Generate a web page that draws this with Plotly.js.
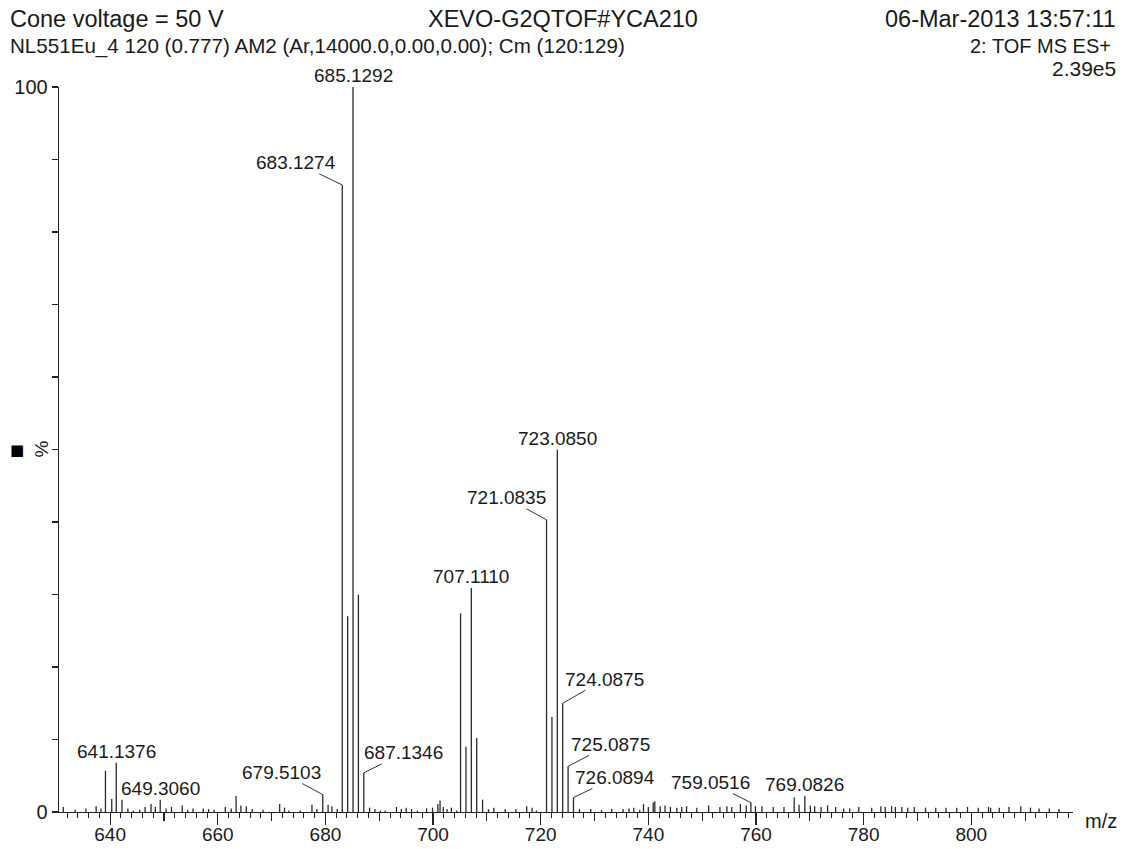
<!DOCTYPE html>
<html>
<head>
<meta charset="utf-8">
<script src="https://cdn.plot.ly/plotly-3.0.1.min.js"></script>
<style>
html,body{margin:0;padding:0;background:#fff;}
#chart{width:1125px;height:849px;}
</style>
</head>
<body>
<div id="chart"></div>
<script>
// ---- data: peak m/z values and relative intensities (%) ----
const mz = [
  631.3, 633.5, 635.5, 637.4, 638.3, 639.13, 640.3, 641.1376, 642.2, 643.3, 644.3, 645.5, 646.5, 647.6, 648.4,
  649.3060, 650.4, 651.4, 653.4, 654.4, 655.4, 657.3, 658.3, 659.3, 661.4, 662.5, 663.4, 664.3, 665.3, 666.4,
  668.4, 671.5, 672.4, 673.2, 675.3, 677.5, 678.4, 679.5103, 680.5, 681.2, 682.2,
  683.1274, 684.13, 685.1292, 686.13, 687.1346, 688.2, 689.2, 690.2, 691.1, 693.2, 694.1, 695.0, 696.0, 697.1,
  698.8, 699.9, 700.9, 701.3, 701.9, 702.6, 703.4, 704.4,
  705.11, 706.11, 707.1110, 708.11, 709.2, 710.3, 711.3, 713.4, 715.4, 717.4, 718.4, 719.2,
  721.0835, 722.09, 723.0850, 724.0875, 725.0875, 726.0894, 727.2, 729.3, 731.3, 733.2, 735.3, 736.4, 737.3, 738.4,
  739.1, 740.0, 740.9, 741.2, 742.2, 743.1, 744.1, 745.3, 746.2, 747.1, 749.0, 751.2, 753.3, 754.6, 755.5, 757.1,
  758.2, 759.0516, 759.9, 761.1, 763.2, 765.2, 767.1, 768.0, 769.0826, 770.1, 770.9, 772.1, 773.3, 774.8,
  776.3, 777.4, 779.1, 781.5, 783.2, 784.0, 785.2, 785.9, 787.1, 788.2, 789.4, 791.5, 793.4, 795.3, 797.3,
  799.3, 801.3, 803.2, 803.6, 805.2, 807.0, 809.2, 811.0, 812.6, 814.5, 816.3
];
const intensity = [
  0.7, 0.3, 0.5, 0.8, 0.5, 5.7, 1.8, 6.8, 1.7, 0.5, 0.2, 0.3, 0.7, 1.1, 0.7,
  1.7, 0.5, 0.7, 0.9, 0.3, 0.5, 0.5, 0.4, 0.3, 0.7, 0.5, 2.2, 0.9, 0.8, 0.4,
  0.3, 1.1, 0.6, 0.2, 0.2, 1.0, 0.4, 2.4, 1.0, 0.8, 0.4,
  86.5, 27.0, 100, 30.0, 5.4, 0.6, 0.4, 0.2, 0.2, 0.7, 0.4, 0.6, 0.4, 0.2,
  0.5, 0.6, 1.1, 1.6, 0.7, 0.4, 0.6, 0.2,
  27.4, 9.0, 30.9, 10.2, 1.7, 0.4, 0.6, 0.4, 0.4, 0.8, 0.6, 0.2,
  40.3, 13.1, 50.0, 15.0, 6.3, 2.0, 0.4, 0.4, 0.3, 0.4, 0.4, 0.5, 0.6, 0.3,
  1.1, 0.7, 1.3, 1.5, 0.8, 0.9, 0.7, 0.6, 0.7, 0.8, 0.6, 0.9, 0.7, 0.8, 0.7, 1.1,
  0.9, 1.3, 0.8, 0.8, 0.7, 0.7, 2.0, 1.0, 2.2, 0.9, 0.8, 0.7, 0.9, 0.7,
  0.5, 0.5, 0.7, 0.6, 0.8, 0.7, 0.8, 0.7, 0.7, 0.6, 0.7, 0.6, 0.6, 0.6, 0.6,
  0.7, 0.6, 0.7, 0.6, 0.6, 0.7, 0.8, 0.6, 0.5, 0.5, 0.4
];
// labelled peaks
const labelMz = [641.1376, 649.3060, 679.5103, 683.1274, 685.1292, 687.1346, 707.1110,
                 721.0835, 723.0850, 724.0875, 725.0875, 726.0894, 759.0516, 769.0826];
const labelText = ["641.1376", "649.3060", "679.5103", "683.1274", "685.1292", "687.1346", "707.1110",
                   "721.0835", "723.0850", "724.0875", "725.0875", "726.0894", "759.0516", "769.0826"];
// axis tick labels
const yTickVals = [0, 10, 20, 30, 40, 50, 60, 70, 80, 90, 100];
const yTickText = ["0", "", "", "", "", "", "", "", "", "", "100"];
// header texts
const headerTitle = "XEVO-G2QTOF#YCA210";
const headerLeft1 = "Cone voltage = 50 V";
const headerLeft2 = "NL551Eu_4 120 (0.777) AM2 (Ar,14000.0,0.00,0.00); Cm (120:129)";
const headerRight1 = "06-Mar-2013 13:57:11";
const headerRight2 = "2: TOF MS ES+";
const headerRight3 = "2.39e5";
const xTitle = "m/z";
const yTitle = "%";

// ---- styling / layout (not data) ----
const FONT = "'Liberation Sans', Arial, Helvetica, sans-serif";
const INK = "#1a1a1a";
const W = 1125, H = 849;
const M = {l: 59, r: 52, t: 87, b: 37};
const plotW = W - M.l - M.r, plotH = H - M.t - M.b;
const px2x = px => (px - M.l) / plotW;
const py2y = py => (H - M.b - py) / plotH;

// label leader offsets (pixels from peak top to label centre); null = label sits right on top
const labelOffsets = {
  "641.1376": null, "649.3060": null, "685.1292": null, "707.1110": null, "723.0850": null, "769.0826": null,
  "683.1274": [-46, -22], "679.5103": [-41, -22], "687.1346": [40, -20], "721.0835": [-40, -22],
  "724.0875": [42, -24], "725.0875": [42, -22], "726.0894": [42, -20], "759.0516": [-40, -20]
};

// build stick spectrum
const sx = [], sy = [];
for (let i = 0; i < mz.length; i++) {
  sx.push(mz[i], mz[i], null);
  sy.push(0, intensity[i], null);
}
const traces = [
  {x: sx, y: sy, type: 'scatter', mode: 'lines', line: {color: '#2a2a2a', width: 1.3},
   hoverinfo: 'skip', showlegend: false, cliponaxis: false},
  {x: [], y: [], type: 'scatter', mode: 'lines', xaxis: 'x2', showlegend: false, hoverinfo: 'skip'}
];

function peakHeight(m) {
  let best = 0, d = 1e9;
  for (let i = 0; i < mz.length; i++) {
    const dd = Math.abs(mz[i] - m);
    if (dd < d) { d = dd; best = intensity[i]; }
  }
  return best;
}

const annotations = [];
labelMz.forEach((m, i) => {
  const off = labelOffsets[labelText[i]];
  const base = {x: m, y: peakHeight(m), xref: 'x', yref: 'y', text: labelText[i],
                font: {family: FONT, size: 19, color: INK}};
  if (off) {
    annotations.push(Object.assign(base, {showarrow: true, arrowhead: 0, arrowwidth: 1, arrowcolor: '#333',
      ax: off[0], ay: off[1], standoff: 0, startstandoff: 0, borderpad: 0}));
  } else {
    annotations.push(Object.assign(base, {showarrow: false, xanchor: 'center', yanchor: 'bottom', yshift: 0, borderpad: 0}));
  }
});

// header texts
const hdr = (text, px, py, anchor, size) => ({text, xref: 'paper', yref: 'paper', x: px2x(px), y: py2y(py),
  xanchor: anchor, yanchor: 'middle', showarrow: false, font: {family: FONT, size, color: INK}});
annotations.push(hdr(headerLeft1, 8, 19, 'left', 23.5));
annotations.push(hdr(headerTitle, 563, 19, 'center', 23.5));
annotations.push(hdr(headerRight1, 1118, 19, 'right', 23.5));
annotations.push(hdr(headerLeft2, 8, 46, 'left', 20.6));
annotations.push(hdr(headerRight2, 1113, 46, 'right', 20));
annotations.push(hdr(headerRight3, 1118, 68, 'right', 21));
// axis titles
annotations.push({text: xTitle, xref: 'paper', yref: 'paper', x: 1, y: 0, xanchor: 'left', yanchor: 'middle',
  xshift: 10, yshift: -9, showarrow: false, font: {family: FONT, size: 20, color: INK}});
annotations.push({text: yTitle, xref: 'paper', yref: 'y', x: px2x(41), y: 50, xanchor: 'center', yanchor: 'middle',
  textangle: -90, showarrow: false, font: {family: FONT, size: 19, color: INK}});
annotations.push({text: '■', xref: 'paper', yref: 'y', x: px2x(17), y: 50, xanchor: 'center', yanchor: 'middle',
  showarrow: false, font: {family: "'DejaVu Sans', sans-serif", size: 15, color: '#000'}});

const xRange = [630.5, 818.9];
const layout = {
  width: W, height: H,
  margin: M,
  paper_bgcolor: '#fff', plot_bgcolor: '#fff',
  showlegend: false,
  font: {family: FONT, color: INK},
  xaxis: {
    range: xRange, tickmode: 'linear', tick0: 640, dtick: 20,
    ticks: 'outside', ticklen: 12, tickwidth: 1.2, tickcolor: '#222',
    ticklabelstandoff: -7,
    showline: true, linecolor: '#222', linewidth: 1.3,
    showgrid: false, zeroline: false,
    tickfont: {family: FONT, size: 19, color: INK},
    minor: {tick0: 640, dtick: 2, ticks: 'outside', ticklen: 5, tickwidth: 1, tickcolor: '#222', showgrid: false}
  },
  xaxis2: {
    range: xRange, overlaying: 'x', anchor: 'y', side: 'bottom',
    tickmode: 'linear', tick0: 640, dtick: 10,
    ticks: 'outside', ticklen: 8, tickwidth: 1.1, tickcolor: '#222',
    showticklabels: false, showline: false, showgrid: false, zeroline: false
  },
  yaxis: {
    range: [0, 100], tickmode: 'array', tickvals: yTickVals, ticktext: yTickText,
    ticks: 'outside', ticklen: 6, tickwidth: 1.2, tickcolor: '#222',
    showline: true, linecolor: '#222', linewidth: 1.3,
    showgrid: false, zeroline: false,
    tickfont: {family: FONT, size: 20, color: INK}
  },
  annotations
};
Plotly.newPlot('chart', traces, layout, {staticPlot: true, displayModeBar: false});
</script>
</body>
</html>
